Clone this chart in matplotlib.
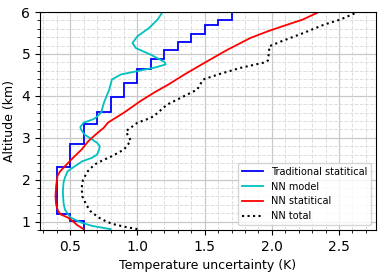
import matplotlib
matplotlib.use("Agg")
import matplotlib.pyplot as plt
from matplotlib.ticker import MultipleLocator

# Traditional statistical (step profile)
trad_edges = [0.8, 1.01, 1.19, 2.3, 2.84, 3.32, 3.62, 3.97, 4.3, 4.64, 4.88, 5.1, 5.29, 5.48, 5.68, 5.82, 6.0]
trad_vals = [0.6, 0.5, 0.4, 0.5, 0.6, 0.7, 0.8, 0.9, 1.0, 1.1, 1.2, 1.3, 1.4, 1.5, 1.6, 1.7]

# NN model
nnm_alt = [0.82, 0.90, 0.98, 1.10, 1.29, 1.45, 1.70, 1.93, 2.05, 2.20, 2.29, 2.44, 2.52, 2.60, 2.72, 2.80,
           2.88, 3.08, 3.20, 3.26, 3.36, 3.44, 3.48, 3.60, 3.83, 4.15, 4.27, 4.39, 4.51, 4.59, 4.68, 4.75,
           4.81, 4.98, 5.14, 5.26, 5.42, 5.62, 5.82, 6.0]
nnm_unc = [0.80, 0.66, 0.58, 0.50, 0.46, 0.45, 0.445, 0.45, 0.46, 0.48, 0.52, 0.59, 0.66, 0.70, 0.715, 0.72,
           0.70, 0.605, 0.58, 0.575, 0.60, 0.67, 0.69, 0.73, 0.75, 0.79, 0.80, 0.81, 0.877, 1.00, 1.137, 1.21,
           1.20, 1.10, 0.988, 0.963, 1.0, 1.087, 1.15, 1.187]

# NN statistical
nns_alt = [0.82, 0.92, 1.01, 1.10, 1.17, 1.25, 1.40, 1.60, 1.85, 2.09, 2.20, 2.32, 2.52, 2.72, 2.92, 3.08,
           3.24, 3.36, 3.44, 3.60, 3.87, 4.07, 4.27, 4.51, 4.79, 5.10, 5.38, 5.54, 5.66, 5.82, 6.0]
nns_unc = [0.60, 0.55, 0.52, 0.48, 0.43, 0.41, 0.395, 0.39, 0.395, 0.405, 0.425, 0.46, 0.52, 0.585, 0.635, 0.69,
           0.75, 0.78, 0.82, 0.90, 1.02, 1.12, 1.23, 1.35, 1.50, 1.67, 1.84, 1.97, 2.08, 2.23, 2.35]

# NN total
nnt_alt = [0.82, 0.88, 0.94, 1.00, 1.10, 1.25, 1.40, 1.60, 1.80, 2.00, 2.20, 2.36, 2.46, 2.56, 2.72, 2.84,
           2.94, 3.04, 3.16, 3.24, 3.36, 3.44, 3.51, 3.79, 3.95, 4.15, 4.29, 4.39, 4.51, 4.67, 4.80, 4.84,
           5.06, 5.18, 5.30, 5.48, 5.70, 5.82, 6.0]
nnt_unc = [1.00, 0.90, 0.82, 0.77, 0.71, 0.65, 0.62, 0.59, 0.585, 0.595, 0.63, 0.68, 0.74, 0.81, 0.90, 0.93,
           0.95, 0.93, 0.915, 0.95, 1.00, 1.07, 1.12, 1.22, 1.32, 1.445, 1.47, 1.49, 1.60, 1.77, 1.95, 1.97,
           1.98, 1.98, 2.07, 2.22, 2.39, 2.51, 2.64]

labels = ["Traditional statitical", "NN model", "NN statitical", "NN total"]

fig = plt.figure(figsize=(3.82, 2.75), dpi=100)
ax = fig.add_axes([40/382, 1 - 230/275, 336/382, 218/275])

ax.stairs(trad_vals, trad_edges, orientation="horizontal", baseline=None,
          color="blue", linewidth=1.3, label=labels[0])
ax.plot(nnm_unc, nnm_alt, color="#00c0c0", linewidth=1.3, label=labels[1])
ax.plot(nns_unc, nns_alt, color="red", linewidth=1.3, label=labels[2])
ax.plot(nnt_unc, nnt_alt, color="black", linestyle=":", linewidth=1.5, label=labels[3])

ax.set_xlim(0.275, 2.775)
ax.set_ylim(0.8, 6.0)
ax.xaxis.set_major_locator(MultipleLocator(0.5))
ax.xaxis.set_minor_locator(MultipleLocator(0.1))
ax.yaxis.set_major_locator(MultipleLocator(1))
ax.yaxis.set_minor_locator(MultipleLocator(0.2))
ax.grid(which="major", color="#c8c8c8", linewidth=0.9)
ax.grid(which="minor", color="#dddddd", linestyle="--", linewidth=0.7)
ax.set_axisbelow(True)
ax.tick_params(labelsize=10)

ax.set_xlabel("Temperature uncertainty (K)", fontsize=9)
ax.set_ylabel("Altitude (km)", fontsize=9)

ax.legend(loc="lower right", fontsize=7, handlelength=2.2, framealpha=0.8)

fig.savefig("out.png", dpi=100)
